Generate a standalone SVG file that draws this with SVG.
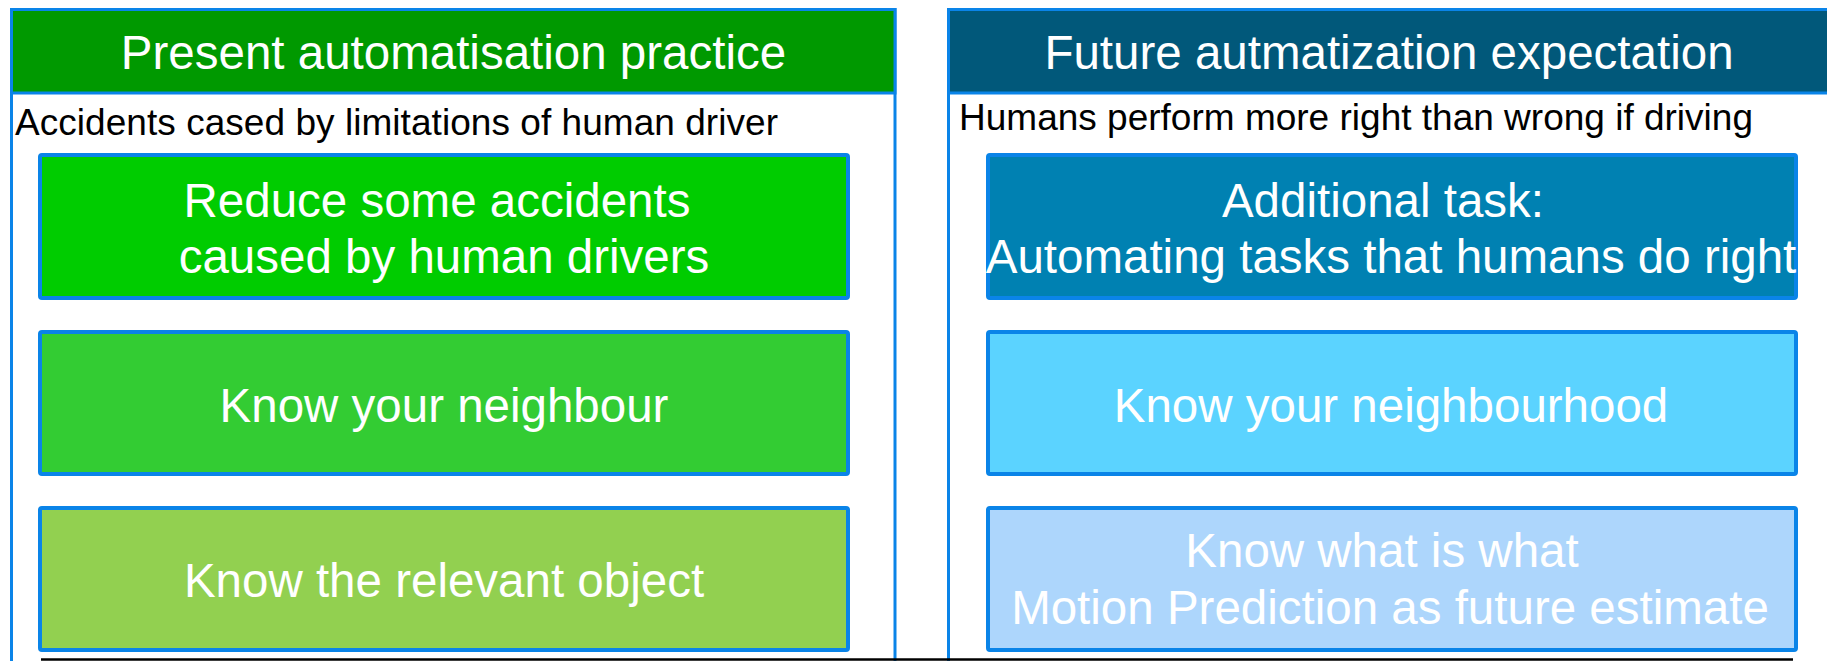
<svg xmlns="http://www.w3.org/2000/svg" width="1827" height="661" viewBox="0 0 1827 661">
  <style>
    .panel { fill: #ffffff; stroke: #0a84e8; stroke-width: 3; }
    .hdr { stroke: #0a84e8; stroke-width: 3; }
    .box { stroke: #0a84e8; stroke-width: 4; }
    .title { font-family: "Liberation Sans", Arial, sans-serif; font-size: 47.5px; fill: #ffffff; text-anchor: middle; }
    .sub { font-family: "Liberation Sans", Arial, sans-serif; font-size: 37px; fill: #000000; }
    .lbl { font-family: "Liberation Sans", Arial, sans-serif; font-size: 47.5px; fill: #ffffff; text-anchor: middle; }
  </style>

  <rect x="0" y="0" width="1827" height="661" fill="#ffffff"/>

  <!-- left column: present practice -->
  <g id="panel-present">
    <rect class="panel" x="11.5" y="9.5" width="883.5" height="670"/>
    <rect class="hdr" x="11.5" y="9.5" width="883.5" height="83.5" fill="#009900"/>
    <text class="title" x="453.5" y="69">Present automatisation practice</text>
    <text class="sub" x="15" y="135" textLength="763" lengthAdjust="spacing">Accidents cased by limitations of human driver</text>
  </g>

  <g id="box-reduce">
    <rect class="box" x="40" y="155" width="808" height="143" rx="2" fill="#00cc00"/>
    <text class="lbl" x="437" y="217">Reduce some accidents</text>
    <text class="lbl" x="444" y="273">caused by human drivers</text>
  </g>

  <g id="box-neighbour">
    <rect class="box" x="40" y="332" width="808" height="142" rx="2" fill="#33cc33"/>
    <text class="lbl" x="444" y="422">Know your neighbour</text>
  </g>

  <g id="box-object">
    <rect class="box" x="40" y="508" width="808" height="142" rx="2" fill="#92d050"/>
    <text class="lbl" x="444" y="597">Know the relevant object</text>
  </g>

  <!-- right column: future expectation -->
  <g id="panel-future">
    <rect class="panel" x="948.5" y="9.5" width="883" height="670"/>
    <rect class="hdr" x="948.5" y="9.5" width="883" height="83.5" fill="#01587a"/>
    <text class="title" x="1389" y="69">Future autmatization expectation</text>
    <text class="sub" x="959" y="130" textLength="794" lengthAdjust="spacing">Humans perform more right than wrong if driving</text>
  </g>

  <g id="box-additional">
    <rect class="box" x="988" y="155" width="808" height="143" rx="2" fill="#0081b2"/>
    <text class="lbl" x="1383" y="217">Additional task:</text>
    <text class="lbl" x="1391" y="273">Automating tasks that humans do right</text>
  </g>

  <g id="box-neighbourhood">
    <rect class="box" x="988" y="332" width="808" height="142" rx="2" fill="#5bd3ff"/>
    <text class="lbl" x="1391" y="422">Know your neighbourhood</text>
  </g>

  <g id="box-whatiswhat">
    <rect class="box" x="988" y="508" width="808" height="142" rx="2" fill="#add6fc"/>
    <text class="lbl" x="1382" y="567">Know what is what</text>
    <text class="lbl" x="1390" y="624">Motion Prediction as future estimate</text>
  </g>

  <!-- connectors: only the base rule under both columns -->
  <g id="connectors">
    <line x1="41" y1="659.5" x2="1793" y2="659.5" stroke="#000000" stroke-width="2.5"/>
  </g>
</svg>
